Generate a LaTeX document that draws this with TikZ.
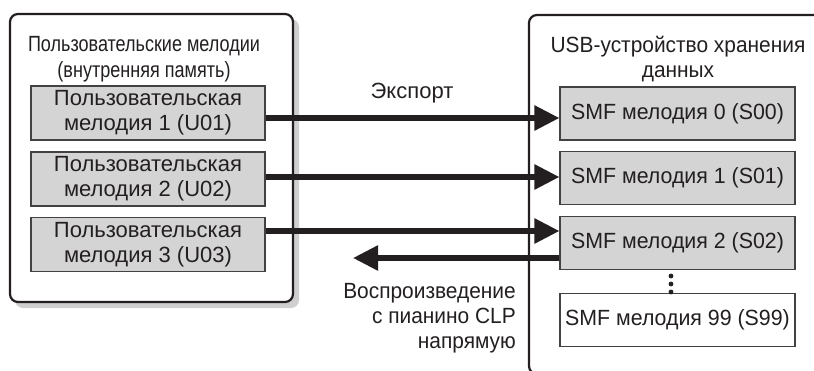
\documentclass[tikz,border=0pt]{standalone}
\usepackage{fontspec}
\setmainfont{Liberation Sans}
\newfontfamily\condfont{Liberation Sans}[FakeStretch=0.82]
\newfontfamily\semifont{Liberation Sans}[FakeStretch=0.95]
\newfontfamily\rightfont{Liberation Sans}[FakeStretch=0.97]
\usetikzlibrary{arrows.meta}
\definecolor{boxfill}{HTML}{D4D4D4}
\definecolor{ink}{HTML}{231F20}
\definecolor{shadowc}{HTML}{CFCFCF}
\tikzset{
  txt/.style={font=\fontsize{22}{25}\selectfont, text=ink, inner sep=0pt},
  songbox/.style={draw=ink!85, line width=1.1pt, fill=boxfill, minimum width=234pt, minimum height=54pt, align=center, font=\fontsize{22}{25}\selectfont, text=ink, inner sep=0pt},
  smfbox/.style={songbox, minimum width=235pt, minimum height=53pt, font=\rightfont\fontsize{22}{25}\selectfont},
  plainbox/.style={smfbox, fill=white},
  frame/.style={draw=ink, line width=2.2pt, rounded corners=8pt},
  bigarrow/.style={draw=ink, line width=5.5pt, -{Triangle[length=25pt,width=24pt]}},
}
\begin{document}
\begin{tikzpicture}[x=1pt,y=-1pt]
\useasboundingbox (0,0) rectangle (814,370);
\begin{scope}
\clip (0,0) rectangle (814,370);
% left frame with shadow
\fill[shadowc, rounded corners=8pt] (15,19) rectangle (299,308);
\fill[white, rounded corners=8pt] (10,14) rectangle (293,302);
\draw[frame] (10,14) rectangle (293,302);
% right frame (extends beyond picture)
\draw[frame] (529,15) rectangle (860,374);
\end{scope}

\node[txt, align=center, font=\condfont\fontsize{22}{25.5}\selectfont] (ltitle) at (144,59) {Пользовательские мелодии\\(внутренняя память)};
\node[txt, align=center, font=\semifont\fontsize{22}{25.5}\selectfont] (rtitle) at (678,59) {USB-устройство хранения\\данных};

\node[songbox] (u1) at (148,113) {Пользовательская\\мелодия 1 (U01)};
\node[songbox] (u2) at (148,179) {Пользовательская\\мелодия 2 (U02)};
\node[songbox] (u3) at (148,244.5) {Пользовательская\\мелодия 3 (U03)};

\node[smfbox] (s0) at (677.5,113.5) {SMF мелодия 0 (S00)};
\node[smfbox] (s1) at (677.5,178) {SMF мелодия 1 (S01)};
\node[smfbox] (s2) at (677.5,243) {SMF мелодия 2 (S02)};
\node[plainbox] (s99) at (677.5,320) {SMF мелодия 99 (S99)};

\foreach \yy in {276,284,292} \fill[ink] (671,\yy) circle (2.4pt);

\draw[bigarrow] ([yshift=-5pt]u1.east) -- ([yshift=-5pt]u1.east -| s0.west);
\draw[bigarrow] ([yshift=2pt]u2.east) -- ([yshift=2pt]u2.east -| s1.west);
\draw[bigarrow] ([yshift=13.5pt]u3.east) -- ([yshift=13.5pt]u3.east -| s2.west);
\coordinate (ret) at (353,258);
\draw[bigarrow] ([yshift=-15pt]s2.west) -- (ret);

\node[txt] (export) at (412,93) {Экспорт};
\node[txt, align=right, anchor=east, font=\semifont\fontsize{22}{25}\selectfont] (play) at (516,318) {Воспроизведение\\с пианино CLP\\напрямую};
\end{tikzpicture}
\end{document}
